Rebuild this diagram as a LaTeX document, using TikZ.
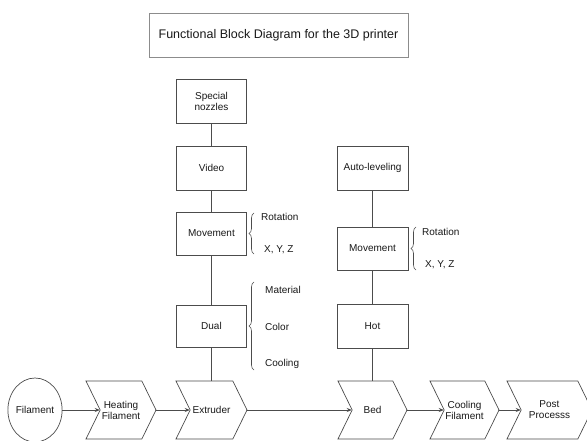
\documentclass[tikz,border=0pt]{standalone}
\usepackage{fontspec}
\setmainfont{Liberation Sans}
\usetikzlibrary{shapes.symbols,shapes.geometric,decorations.pathreplacing,arrows.meta}
\begin{document}
\begin{tikzpicture}[x=1pt,y=-1pt,
  every node/.style={font=\fontsize{10}{11}\selectfont, text=black!90},
  blk/.style={draw=black!70, line width=0.7pt, minimum width=70pt, minimum height=44pt, inner sep=1pt, align=center},
  chev/.style={draw=black!70, line width=0.7pt, shape=signal, signal from=west, signal to=east,
     signal pointer angle=128, minimum width=70pt, minimum height=58pt, inner sep=0pt, align=center},
  conn/.style={draw=black!70, line width=0.7pt},
  arr/.style={conn, -{Stealth[length=5pt,width=4pt]}},
  brc/.style={draw=black!70, line width=0.6pt, decorate, decoration={brace, amplitude=5pt}},
  lbl/.style={anchor=west, inner sep=0pt}]
\useasboundingbox (0,0) rectangle (587,441);
\fill[white] (0,0) rectangle (587,441);

% title
\node[draw=black!45, line width=0.8pt, minimum width=259pt, minimum height=44pt,
      font=\fontsize{12.5}{14}\selectfont] (title) at (278.5,35) {Functional Block Diagram for the 3D printer};

% left column
\node[blk] (noz) at (211.5,101) {Special\\nozzles};
\node[blk] (vid) at (211.5,168) {Video};
\node[blk, minimum height=43pt] (mov1) at (211.5,233.5) {Movement};
\node[blk, minimum height=42pt] (dual) at (211.5,326) {Dual};

% right column
\node[blk, minimum width=71pt] (auto) at (372.5,168) {Auto-leveling};
\node[blk, minimum width=71pt, minimum height=43pt] (mov2) at (372.5,248.5) {Movement};
\node[blk, minimum width=71pt] (hot) at (372.5,326) {Hot};

% bottom row
\node[draw=black!70, line width=0.7pt, ellipse, minimum width=54pt, minimum height=64pt, inner sep=0pt] (fil) at (35,410) {Filament};
\node[chev] (heat) at (121,410) {Heating\\Filament};
\node[chev, minimum width=71pt] (extr) at (211.5,410) {Extruder};
\node[chev, minimum width=69pt] (bed) at (372.5,410) {Bed};
\node[chev, minimum width=69pt] (cool) at (464.5,410) {Cooling\\Filament};
\node[chev, minimum width=85pt] (post) at (549.5,410) {Post\\Processs};

% vertical connectors
\draw[conn] (noz) -- (vid);
\draw[conn] (vid) -- (mov1);
\draw[conn] (mov1) -- (dual);
\draw[conn] (dual) -- (extr.north);
\draw[conn] (auto) -- (mov2);
\draw[conn] (mov2) -- (hot);
\draw[conn] (hot) -- (bed.north);

% horizontal arrows
\draw[arr] (fil) -- (heat.west);
\draw[arr] (heat.east) -- (extr.west);
\draw[arr] (extr.east) -- (bed.west);
\draw[arr] (bed.east) -- (cool.west);
\draw[arr] (cool.east) -- (post.west);

% braces and labels
\draw[brc] (254,254) -- (254,213);
\node[lbl] (r1) at (261,217) {Rotation};
\node[lbl] (x1) at (264,250) {X, Y, Z};

\draw[brc] (254,370) -- (254,282);
\node[lbl] (m1) at (265,290) {Material};
\node[lbl] (c1) at (265,327) {Color};
\node[lbl] (k1) at (265,364) {Cooling};

\draw[brc] (416,270) -- (416,227);
\node[lbl] (r2) at (422,232) {Rotation};
\node[lbl] (x2) at (425,265) {X, Y, Z};
\end{tikzpicture}
\end{document}
